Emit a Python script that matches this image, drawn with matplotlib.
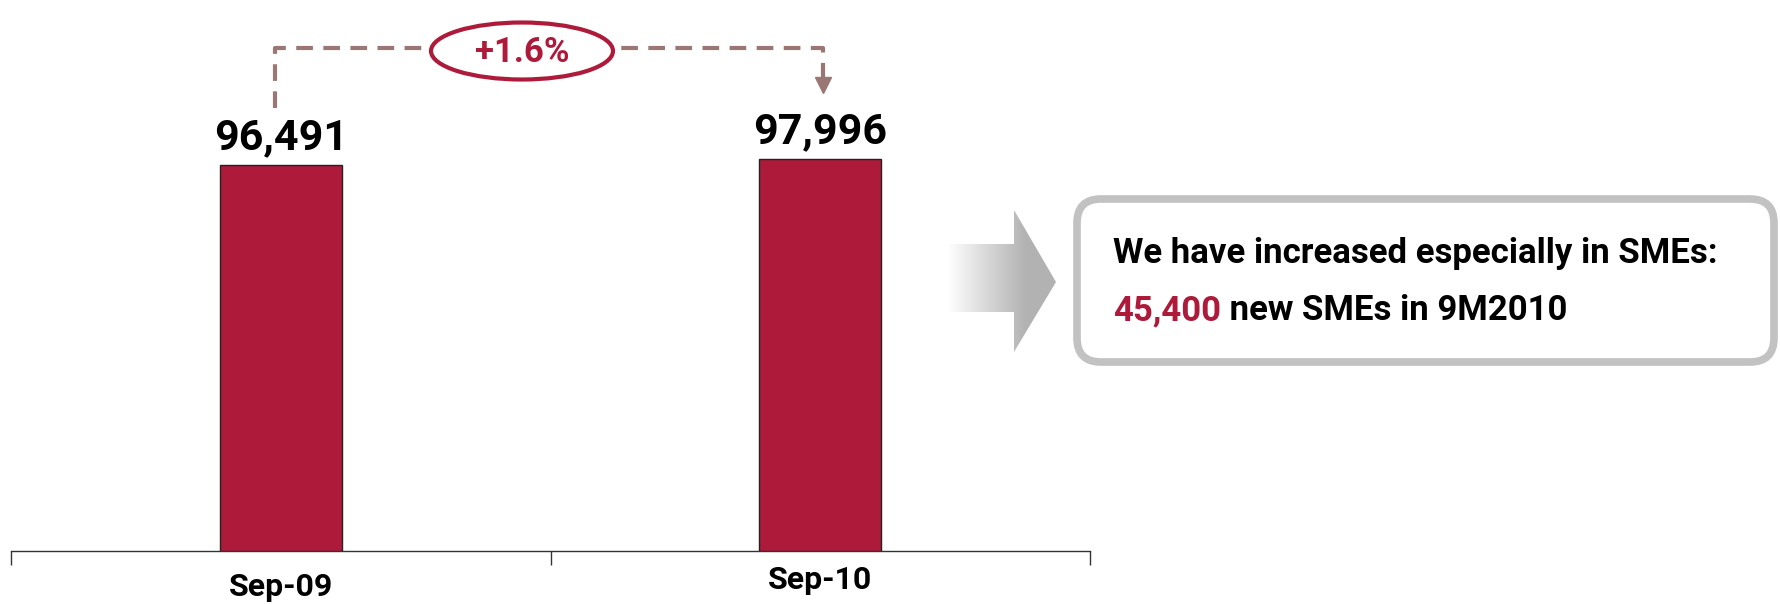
import numpy as np
import matplotlib.pyplot as plt
from matplotlib import font_manager
from matplotlib.patches import Ellipse, FancyBboxPatch, Polygon
from matplotlib.transforms import blended_transform_factory

# pick a narrow-ish bold font if there is one
available = {f.name for f in font_manager.fontManager.ttflist}
family = [f for f in ['Liberation Sans Narrow', 'Roboto', 'DejaVu Sans'] if f in available][0]
plt.rcParams['font.family'] = [family, 'DejaVu Sans']

# Data
categories = ['Sep-09', 'Sep-10']
values = [96491, 97996]
value_labels = ['96,491', '97,996']
growth_label = '+1.6%'
note_line1 = 'We have increased especially in SMEs:'
note_highlight = '45,400'
note_rest = ' new SMEs in 9M2010'

red = '#AE1A3A'
dash_col = '#9A7774'

W, H = 1781, 604
fig = plt.figure(figsize=(W / 100, H / 100), dpi=100)
ax = fig.add_axes([11 / W, 53 / H, 1079 / W, 551 / H])

x = np.arange(len(categories))
ax.bar(x, values, width=0.226, color=red, edgecolor='#222222', linewidth=1.0, zorder=3)
ax.set_xlim(-0.5, 1.5)
ax.set_ylim(0, 137740)

for s in ['top', 'left', 'right']:
    ax.spines[s].set_visible(False)
ax.spines['bottom'].set_color('#333333')
ax.spines['bottom'].set_linewidth(1.0)
ax.set_yticks([])
ax.set_xticks([])
ax.set_xticks([-0.5, 0.5, 1.5], minor=True)
ax.tick_params(axis='x', which='minor', length=10, width=1.0, color='#333333', direction='out')

# value labels above bars
for xi, v, lab in zip(x, values, value_labels):
    ax.annotate(lab, (xi, v), xytext=(0, 5), textcoords='offset points',
                ha='center', va='bottom', fontsize=31, fontweight='bold', color='black')

# category labels (Sep-10 sits a bit higher in the original)
trans = blended_transform_factory(ax.transData, ax.transAxes)
label_y = [-0.066, -0.053]
for xi, lab, ly in zip(x, categories, label_y):
    ax.text(xi, ly, lab, transform=trans, ha='center', va='center',
            fontsize=23, fontweight='bold', color='black')

# growth bracket
top_y = 0.913
ax.plot([x[0] - 0.01, x[0] - 0.01, x[1] + 0.005, x[1] + 0.005],
        [0.804, top_y, top_y, 0.855], transform=trans, color=dash_col,
        lw=3, ls=(0, (4, 2.5)), clip_on=False, zorder=1)
ax.plot([x[1] + 0.005], [0.845], transform=trans, marker='v', ms=12,
        color=dash_col, clip_on=False, zorder=1)

# overlay in pixel coordinates for the callout pieces
ov = fig.add_axes([0, 0, 1, 1])
ov.set_xlim(0, W)
ov.set_ylim(H, 0)
ov.axis('off')

ov.add_patch(Ellipse((522, 51), 182, 57, facecolor='white', edgecolor=red, lw=3, zorder=3))
ov.text(522, 52, growth_label, ha='center', va='center', fontsize=25,
        fontweight='bold', color=red, zorder=4)

# gradient arrow
arrow_pts = [(948, 244), (1014, 244), (1014, 210), (1056, 282),
             (1014, 352), (1014, 312), (948, 312)]
arrow = Polygon(arrow_pts, closed=True, facecolor='none', edgecolor='none')
ov.add_patch(arrow)
grad = np.clip(np.linspace(0, 1.4, 256), 0, 1)
img = np.ones((2, 256, 3))
shade = 1 - 0.3 * grad
img[:, :, 0] = shade
img[:, :, 1] = shade
img[:, :, 2] = shade
im = ov.imshow(img, extent=[948, 1056, 352, 210], aspect='auto', zorder=2)
im.set_clip_path(arrow)
ov.set_xlim(0, W)
ov.set_ylim(H, 0)

# callout box
box = FancyBboxPatch((1077, 199), 697, 163, boxstyle='round,pad=0,rounding_size=24',
                     facecolor='white', edgecolor='#C2C2C2', lw=5.5, zorder=2)
ov.add_patch(box)

t1 = ov.text(1113, 253, note_line1, ha='left', va='center', fontsize=25,
             fontweight='bold', color='black', zorder=3)
t2 = ov.text(1113, 311, note_highlight, ha='left', va='center', fontsize=25,
             fontweight='bold', color=red, zorder=3)
ov.annotate(note_rest, xy=(1, 0), xycoords=t2, va='bottom', ha='left',
            fontsize=25, fontweight='bold', color='black', zorder=3)

fig.savefig('out.png', dpi=100)
